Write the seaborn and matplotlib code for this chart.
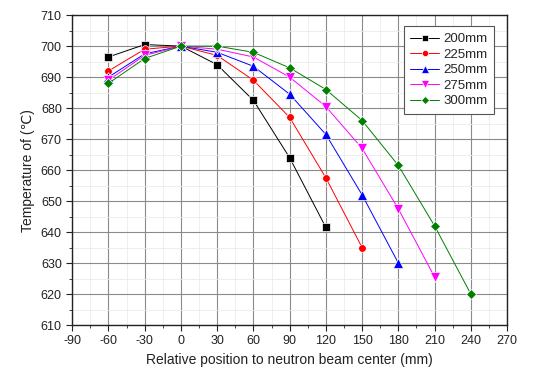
import numpy as np
import pandas as pd
import matplotlib
matplotlib.use("Agg")
import matplotlib.pyplot as plt
from matplotlib.ticker import MultipleLocator
import seaborn as sns

positions = [-60, -30, 0, 30, 60, 90, 120, 150, 180, 210, 240]
series_names = ["200mm", "225mm", "250mm", "275mm", "300mm"]
t200 = [696.5, 700.5, 700, 694, 682.5, 664, 641.5]
t225 = [692, 699, 700, 697, 689, 677, 657.5, 635]
t250 = [690, 697.5, 700, 698, 693.5, 684.5, 671.5, 652, 630]
t275 = [689, 697, 700, 699, 696.5, 690, 680.5, 667, 647.5, 625.5]
t300 = [688, 696, 700, 700, 698, 693, 686, 676, 661.5, 642, 620]

colors = ["#000000", "#ff0000", "#0000ff", "#ff00ff", "#007f00"]
markers = ["s", "o", "^", "v", "D"]

rows = []
for name, vals in zip(series_names, [t200, t225, t250, t275, t300]):
    for x, y in zip(positions, vals):
        rows.append({"pos": x, "temp": y, "series": name})
df = pd.DataFrame(rows)

sns.set_theme(style="white")
plt.rcParams["font.family"] = ["Liberation Sans", "DejaVu Sans"]
plt.rcParams["axes.unicode_minus"] = False

fig = plt.figure(figsize=(5.47, 3.78), dpi=100)
ax = fig.add_axes([0.132, 0.14, 0.795, 0.82])

ax.xaxis.set_major_locator(MultipleLocator(30))
ax.xaxis.set_minor_locator(MultipleLocator(15))
ax.yaxis.set_major_locator(MultipleLocator(10))
ax.yaxis.set_minor_locator(MultipleLocator(5))
ax.grid(which="major", color="#8a8a8a", linewidth=0.8, zorder=0)
ax.grid(which="minor", color="#ebebeb", linewidth=0.6, zorder=0)
ax.set_axisbelow(True)

sns.lineplot(data=df, x="pos", y="temp", hue="series", style="series",
             palette=dict(zip(series_names, colors)),
             markers=dict(zip(series_names, markers)),
             dashes=False, linewidth=0.7, markersize=6,
             markeredgewidth=0.5, ax=ax, sort=False, estimator=None)

size_map = {"s": 5.5, "o": 5.5, "^": 6.5, "v": 6.5, "D": 5.3}
for ln in ax.lines:
    m = ln.get_marker()
    if m in size_map:
        ln.set_markersize(size_map[m])

ax.set_xlim(-90, 270)
ax.set_ylim(610, 710)
ax.set_xlabel("Relative position to neutron beam center (mm)", fontsize=10, color="#222222")
ax.set_ylabel("Temperature of (℃)", fontsize=10, color="#222222")
ax.tick_params(axis="both", which="major", labelsize=9, direction="out",
               length=4, width=0.8, colors="#222222", bottom=True, left=True)
ax.tick_params(axis="both", which="minor", direction="out", length=2, width=0.6,
               bottom=True, left=True)
for s in ax.spines.values():
    s.set_color("#222222")
    s.set_linewidth(1.0)

leg = ax.legend(loc="upper right", bbox_to_anchor=(0.985, 0.985), fontsize=9.5,
                frameon=True, fancybox=False, edgecolor="#555555",
                handlelength=2.2, labelspacing=0.25, borderpad=0.5,
                handletextpad=0.3)
leg.get_frame().set_linewidth(0.8)
leg.get_frame().set_alpha(1)
for h in leg.legend_handles:
    try:
        m = h.get_marker()
        if m in size_map:
            h.set_markersize(size_map[m] - 1)
    except AttributeError:
        pass

fig.savefig("out.png", dpi=100)
